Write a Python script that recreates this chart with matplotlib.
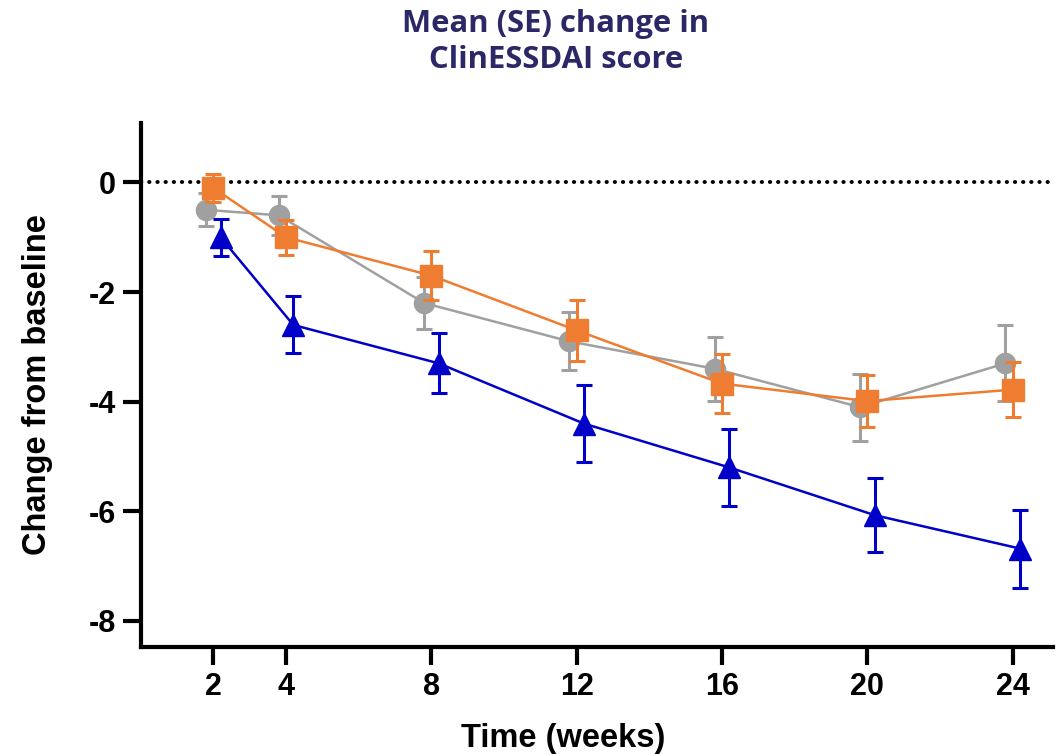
import matplotlib
matplotlib.use("Agg")
import matplotlib.pyplot as plt
import numpy as np

weeks = [2, 4, 8, 12, 16, 20, 24]

grey_mean = [-0.5, -0.6, -2.2, -2.9, -3.4, -4.1, -3.3]
grey_se = [0.3, 0.36, 0.48, 0.53, 0.58, 0.61, 0.69]

orange_mean = [-0.1, -1.0, -1.7, -2.7, -3.67, -3.99, -3.78]
orange_se = [0.25, 0.32, 0.45, 0.56, 0.54, 0.48, 0.5]

blue_mean = [-1.0, -2.6, -3.3, -4.4, -5.2, -6.07, -6.68]
blue_se = [0.34, 0.52, 0.55, 0.7, 0.7, 0.67, 0.71]

yticks = [0, -2, -4, -6, -8]
xticks = [2, 4, 8, 12, 16, 20, 24]

title_text = "Mean (SE) change in\nClinESSDAI score"
xlabel_text = "Time (weeks)"
ylabel_text = "Change from baseline"

GREY = "#a0a0a0"
ORANGE = "#ee7d31"
BLUE = "#0000c8"
NAVY = "#2b2867"

fig = plt.figure(figsize=(10.56, 7.54), dpi=100)
ax = fig.add_axes([0.1332, 0.1423, 0.9969 - 0.1332, 0.8373 - 0.1423])
ax.set_facecolor("none")

ax.axhline(0, color="black", lw=2.8, ls=(0, (0.1, 2.0)), dash_capstyle="round", zorder=1)

wk = np.array(weeks, dtype=float)
series = [
    (grey_mean, grey_se, GREY, "o", 14.5, -0.2, 3),
    (orange_mean, orange_se, ORANGE, "s", 16, 0.0, 4),
    (blue_mean, blue_se, BLUE, "^", 16, 0.2, 5),
]
for mean, se, col, mk, ms, off, z in series:
    ax.errorbar(wk + off, mean, yerr=se, color=col, ecolor=col, marker=mk, ms=ms,
                mec=col, mfc=col, lw=1.8, elinewidth=2.2, capsize=6, capthick=2.2,
                zorder=z)

ax.set_xlim(0, 25.1)
ax.set_ylim(-8.47, 1.09)
ax.set_xticks(xticks)
ax.set_yticks(yticks)

font = "Liberation Sans"
ax.set_xticklabels([str(t) for t in xticks], fontsize=22, fontweight="bold", family=font)
ax.set_yticklabels([str(t) for t in yticks], fontsize=22, fontweight="bold", family=font)

for s in ["top", "right"]:
    ax.spines[s].set_visible(False)
for s in ["left", "bottom"]:
    ax.spines[s].set_linewidth(3)
    ax.spines[s].set_capstyle("projecting")
ax.tick_params(axis="both", length=13, width=3, direction="out", pad=5, color="black")

ax.set_xlabel(xlabel_text, fontsize=23.5, fontweight="bold", family=font)
ax.set_ylabel(ylabel_text, fontsize=23.5, fontweight="bold", family=font)
ax.xaxis.set_label_coords((563 - 140.7) / (1052.7 - 140.7), -(738 - 646.7) / (646.7 - 122.7), transform=ax.transAxes)
ax.yaxis.set_label_coords(-(140.7 - 38) / (1052.7 - 140.7), 0.5, transform=ax.transAxes)
ax.yaxis.label.set_va("center")
ax.xaxis.label.set_va("center")

fig.text(556 / 1056, 1 - 42 / 754, title_text, ha="center", va="center", fontsize=22.3,
         fontweight="bold", family="Open Sans", color=NAVY, linespacing=1.3)

fig.savefig("out.png", dpi=100)
